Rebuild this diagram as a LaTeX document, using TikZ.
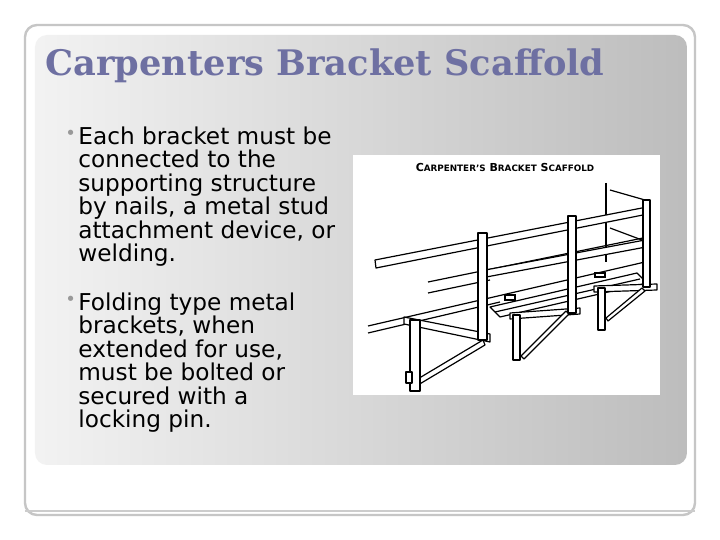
\documentclass[tikz,border=0pt]{standalone}
\usepackage{fontspec}
\setmainfont{DejaVu Sans}
\newfontfamily\titlefont{DejaVu Serif}
\usetikzlibrary{positioning}
\definecolor{titleblue}{HTML}{6E70A2}
\tikzset{
	bodytext/.style={anchor=north west, align=left, inner sep=0pt, font=\fontsize{11.6}{11.75}\selectfont},
	bulletmark/.style={anchor=north west, inner sep=0pt, font=\fontsize{9}{10}\selectfont, text=gray!80},
	board/.style={draw=black, fill=white, line width=0.6pt, line join=round},
}
\begin{document}
\begin{tikzpicture}[x=0.5pt, y=-0.5pt]
	\useasboundingbox (0,0) rectangle (720,540);
	\fill[white] (0,0) rectangle (720,540);
	
	%frame
	\draw[gray!45, line width=1.2pt, rounded corners=6pt] (25,25) rectangle (695,515);
	\shade[left color=gray!10, right color=gray!52, rounded corners=6pt] (35,35) rectangle (687,465);
	
	%title
	\node[anchor=west, inner sep=0pt, text=titleblue, font=\titlefont\bfseries\fontsize{17.6}{19}\selectfont] (title) at (45,66) {Carpenters Bracket Scaffold};
	
	%bullets
	\node[bulletmark] (b1) at (65,130) {•};
	\node[bodytext] (t1) at (78,126) {Each bracket must be\\connected to the\\supporting structure\\by nails, a metal stud\\attachment device, or\\welding.};
	\node[bulletmark] (b2) at (65,296) {•};
	\node[bodytext] (t2) at (78,292) {Folding type metal\\brackets, when\\extended for use,\\must be bolted or\\secured with a\\locking pin.};
	
	%picture
	\fill[white] (353,155) rectangle (660,395);
	\node[inner sep=0pt, font=\bfseries\fontsize{5.5}{6}\selectfont] (ptitle) at (505,167) {C\scalebox{0.8}{ARPENTER'S} B\scalebox{0.8}{RACKET} S\scalebox{0.8}{CAFFOLD}};
	
	\begin{scope}[line width=0.6pt]
	%wall
	\draw (606,183) -- (606,262);
	\draw (610,190) -- (645,200);
	\draw (610,228) -- (642,240);
	%back rails
	\draw (368,326) -- (645,262);
	\draw (368,333) -- (500,302);
	\draw (428,282) -- (643,238);
	\draw (428,293) -- (490,280);
	%guardrail and midrail
	\draw[board] (375,260) -- (647,207) -- (648,214) -- (376,268) -- cycle;
	\draw[board] (480,271) -- (645,240) -- (646,247) -- (481,278) -- cycle;
	%platform
	\draw[board] (490,307) -- (637,273) -- (647,283) -- (500,317) -- cycle;
	\draw (495,312) -- (640,279);
	\draw (505,300) rectangle (515,295);
	\draw (595,277) rectangle (605,273);
	%brackets
	\draw[board] (404,317) -- (490,334) -- (490,342) -- (404,324) -- cycle;
	\draw[board] (416,380) -- (483,340) -- (485,345) -- (418,385) -- cycle;
	\draw[board] (410,320) rectangle (420,391);
	\draw[board] (406,372) rectangle (412,383);
	\draw[board] (510,313) -- (580,308) -- (580,314) -- (510,319) -- cycle;
	\draw[board] (521,356) -- (566,311) -- (569,314) -- (524,359) -- cycle;
	\draw[board] (513,315) rectangle (520,360);
	\draw[board] (594,286) -- (657,284) -- (657,290) -- (594,292) -- cycle;
	\draw[board] (606,318) -- (642,288) -- (645,291) -- (608,321) -- cycle;
	\draw[board] (598,288) rectangle (605,330);
	%posts
	\draw[board] (478,233) rectangle (487,340);
	\draw[board] (568,216) rectangle (576,313);
	\draw[board] (643,200) rectangle (650,287);
	\end{scope}
	
	%bottom line
	\draw[gray!40, line width=1pt] (25,511) -- (695,511);
\end{tikzpicture}
\end{document}
